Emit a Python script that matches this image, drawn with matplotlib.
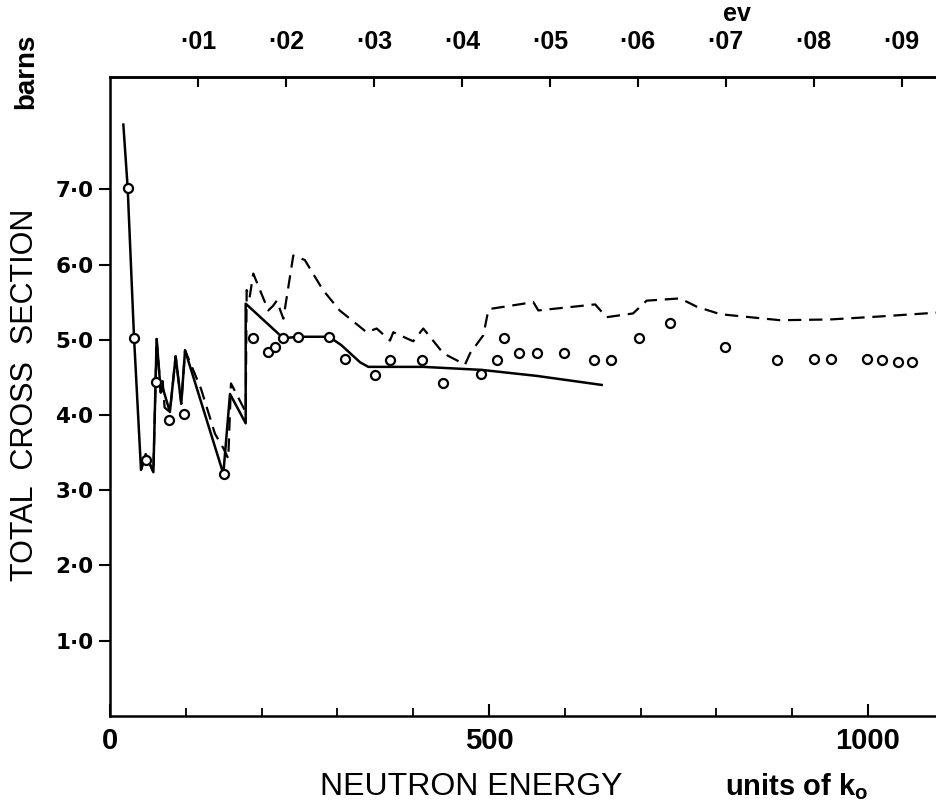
import numpy as np
import matplotlib
matplotlib.use("Agg")
import matplotlib.pyplot as plt

plt.rcParams['font.family'] = ['Liberation Sans', 'DejaVu Sans']

# ---- data (x in units of k0, y in barns) ----
solid_x = [17.6, 23.3, 31.7, 40.9, 47.1, 57.2, 61.5, 67, 69, 79, 86.6, 94, 99, 149.5,
           158.3, 179, 179, 228.7, 247.6, 289, 305, 330, 340.8, 413, 490, 563, 648.6]
solid_y = [7.86, 7.02, 5.03, 3.27, 3.48, 3.24, 5.01, 4.30, 4.38, 4.04, 4.78, 4.15, 4.86, 3.22,
           4.28, 3.89, 5.48, 5.02, 5.04, 5.04, 4.93, 4.70, 4.64, 4.64, 4.60, 4.52, 4.40]

dash_x = [40.9, 47.1, 57.2, 61.5, 67, 69.5, 72, 79, 86.6, 94, 99, 120, 138.5, 150, 156,
          159.6, 179, 180.3, 184, 189, 208.8, 215, 220, 228.7, 241.8, 257, 281, 303, 338.6,
          351.8, 369.4, 373.7, 400, 413.3, 439.7, 468.3, 475, 492.5, 499, 501.3, 558.5, 565,
          640, 655, 690, 708, 752, 774, 805, 884, 950, 1016, 1090]
dash_y = [3.27, 3.48, 3.24, 5.01, 4.30, 4.45, 4.10, 4.04, 4.78, 4.15, 4.86, 4.35, 3.75, 3.55, 3.42,
          4.42, 4.04, 5.66, 5.55, 5.88, 5.39, 5.45, 5.52, 5.28, 6.12, 6.06, 5.66, 5.39, 5.10,
          5.15, 4.99, 5.10, 4.98, 5.15, 4.82, 4.67, 4.82, 5.06, 5.39, 5.41, 5.50, 5.39,
          5.47, 5.30, 5.35, 5.52, 5.55, 5.44, 5.34, 5.26, 5.27, 5.31, 5.36]

circ_x = [23.3, 31.7, 47.5, 60.7, 77.8, 97.6, 150.8, 189, 208, 217.7, 228.7, 247.6, 289, 310,
          349.6, 369.4, 411, 438.9, 489, 511, 519.8, 540, 563, 599.4, 638.5, 660.5, 697.9,
          738.8, 811, 879.5, 929, 951, 998.3, 1019, 1040, 1058.5]
circ_y = [7.02, 5.03, 3.40, 4.44, 3.93, 4.02, 3.22, 5.03, 4.84, 4.91, 5.03, 5.04, 5.04, 4.74,
          4.53, 4.73, 4.73, 4.43, 4.54, 4.73, 5.02, 4.83, 4.82, 4.83, 4.73, 4.73, 5.02,
          5.22, 4.91, 4.73, 4.74, 4.74, 4.74, 4.73, 4.71, 4.71]

y_ticks = [1, 2, 3, 4, 5, 6, 7]
y_labels = ['1·0', '2·0', '3·0', '4·0', '5·0', '6·0', '7·0']
x_major = [0, 500, 1000]
x_minor = [100, 200, 300, 400, 600, 700, 800, 900]
top_ev = [0.01, 0.02, 0.03, 0.04, 0.05, 0.06, 0.07, 0.08, 0.09]
top_labels = ['·01', '·02', '·03', '·04', '·05', '·06', '·07', '·08', '·09']
k0_ev = 8.617e-5  # eV per unit of k0

fig = plt.figure(figsize=(9.37, 8.05), dpi=100)
ax = fig.add_axes([0.1174, 0.1106, 0.8826, 0.7935])

ax.plot(dash_x, dash_y, color='black', lw=1.6, dashes=(6, 3.5), zorder=2)
ax.plot(solid_x, solid_y, color='black', lw=1.8, zorder=3)
ax.plot(circ_x, circ_y, linestyle='none', marker='o', ms=6.5, mfc='white',
        mec='black', mew=1.6, zorder=4)

ax.set_xlim(0, 1091)
ax.set_ylim(0, 8.49)

for s in ['left', 'bottom', 'top']:
    ax.spines[s].set_linewidth(1.8)
ax.spines['right'].set_visible(False)

ax.set_yticks(y_ticks)
ax.set_yticklabels(y_labels, fontsize=15.5, fontweight='bold', family='DejaVu Sans')
ax.tick_params(axis='y', direction='out', length=8, width=1.5, pad=4)

ax.set_xticks(x_major)
ax.set_xticklabels([str(v) for v in x_major], fontsize=21, fontweight='bold')
ax.set_xticks(x_minor, minor=True)
ax.tick_params(axis='x', which='major', direction='in', length=9, width=1.5, pad=8)
ax.tick_params(axis='x', which='minor', direction='in', length=6, width=1.3)

top = ax.twiny()
top.set_xlim(ax.get_xlim())
top.set_xticks([e / k0_ev for e in top_ev])
top.set_xticklabels(top_labels, fontsize=18, fontweight='bold')
top.tick_params(axis='x', direction='in', length=7, width=1.5, pad=17)
for s in ['left', 'bottom', 'right']:
    top.spines[s].set_visible(False)
top.spines['top'].set_linewidth(1.8)

fig.text(0.027, 0.51, 'TOTAL  CROSS  SECTION', rotation=90, ha='center', va='center',
         fontsize=22)
fig.text(0.028, 0.911, 'barns', rotation=90, ha='center', va='center',
         fontsize=20, fontweight='bold')
fig.text(0.787, 0.974, 'ev', ha='center', va='baseline', fontsize=18, fontweight='bold')
fig.text(0.503, 0.012, 'NEUTRON ENERGY', ha='center', va='baseline', fontsize=23)
fig.text(0.850, 0.012, r'units of k$_\mathregular{o}$', ha='center', va='baseline',
         fontsize=21, fontweight='bold')

fig.savefig('out.png', dpi=100)
